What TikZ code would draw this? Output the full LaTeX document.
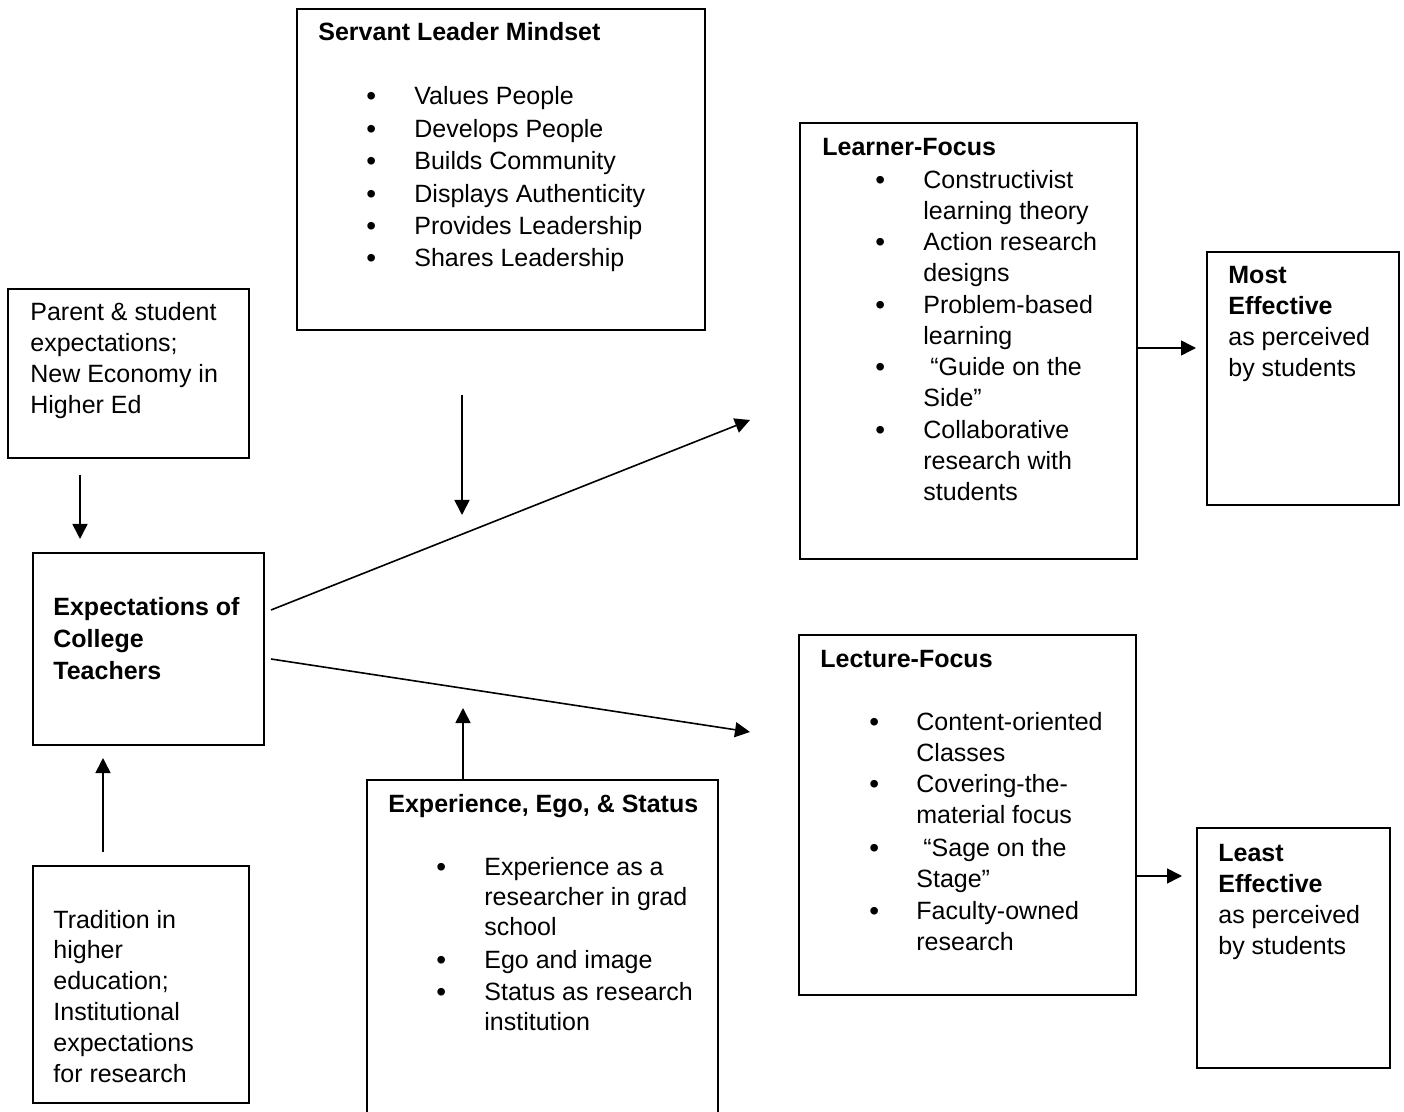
\documentclass[tikz,border=0pt]{standalone}
\usepackage{fontspec}
\setmainfont{Liberation Sans}
\usetikzlibrary{arrows.meta,fit}

% lines stacked with the first baseline as the node's baseline
\newcommand{\boxlines}[1]{\begin{tabular}[t]{@{}l@{}}#1\end{tabular}}

\tikzset{
  box/.style={draw, line width=1pt, inner sep=0pt},
  txt/.style={inner sep=0pt, anchor=base west,
    font=\fontsize{12.5pt}{15.5pt}\selectfont},
  head/.style={txt, font=\fontsize{12.5pt}{15.5pt}\selectfont\bfseries},
  bul/.style={txt, font=\fontsize{14pt}{15.5pt}\selectfont},
  arr/.style={-{Triangle[length=7.5pt,width=7.5pt]}, line width=0.8pt}
}

\begin{document}
\begin{tikzpicture}[x=0.5pt,y=-0.5pt]
    \useasboundingbox (0,0) rectangle (1404,1112);
    % Boxes
    \node[box, fit={(8,289) (249,458)}] (parent) {};
    \node[box, fit={(33,553) (264,745)}] (expect) {};
    \node[box, fit={(33,866) (249,1103)}] (trad) {};
    \node[box, fit={(297,9) (705,330)}] (servant) {};
    \node[box, fit={(367,780) (718,1140)}] (exper) {};
    \node[box, fit={(800,123) (1137,559)}] (learner) {};
    \node[box, fit={(1207,252) (1399,505)}] (most) {};
    \node[box, fit={(799,635) (1136,995)}] (lecture) {};
    \node[box, fit={(1197,828) (1390,1068)}] (least) {};
    % Left column texts
    \node[txt] (parenttxt) at (30,321) {\boxlines{Parent \& student\\expectations;\\New Economy in\\Higher Ed}};
    \node[head, font=\fontsize{12.5pt}{16pt}\selectfont\bfseries] (expecttxt) at (53,616) {\boxlines{Expectations of\\College\\Teachers}};
    \node[txt, font=\fontsize{12.5pt}{15.4pt}\selectfont] (tradtxt) at (53,928) {\boxlines{Tradition in\\higher\\education;\\Institutional\\expectations\\for research}};
    % Servant leader mindset
    \node[head] (servanthead) at (318,41) {Servant Leader Mindset};
    \node[bul, font=\fontsize{14pt}{16.2pt}\selectfont] (servantbul) at (366,106) {\boxlines{•\\•\\•\\•\\•\\•}};
    \node[txt, font=\fontsize{12.5pt}{16.2pt}\selectfont] (servanttxt) at (414,105) {\boxlines{Values People\\Develops People\\Builds Community\\Displays Authenticity\\Provides Leadership\\Shares Leadership}};
    % Learner focus
    \node[head] (learnerhead) at (822,156) {Learner-Focus};
    \node[bul] (lf1b) at (875,190) {•};
    \node[txt] (lf1) at (923,189) {\boxlines{Constructivist\\learning theory}};
    \node[bul] (lf2b) at (875,252) {•};
    \node[txt] (lf2) at (923,251) {\boxlines{Action research\\designs}};
    \node[bul] (lf3b) at (875,315) {•};
    \node[txt] (lf3) at (923,314) {\boxlines{Problem-based\\learning}};
    \node[bul] (lf4b) at (875,377) {•};
    \node[txt] (lf4) at (923,376) {\boxlines{\ “Guide on the\\Side”}};
    \node[bul] (lf5b) at (875,440) {•};
    \node[txt] (lf5) at (923,439) {\boxlines{Collaborative\\research with\\students}};
    \node[txt] (mosttxt) at (1228,284) {\boxlines{\textbf{Most}\\\textbf{Effective}\\as perceived\\by students}};
    % Lecture focus
    \node[head] (lecturehead) at (820,668) {Lecture-Focus};
    \node[bul] (lc1b) at (869,731) {•};
    \node[txt] (lc1) at (916,730) {\boxlines{Content-oriented\\Classes}};
    \node[bul] (lc2b) at (869,793) {•};
    \node[txt] (lc2) at (916,792) {\boxlines{Covering-the-\\material focus}};
    \node[bul] (lc3b) at (869,857) {•};
    \node[txt] (lc3) at (916,856) {\boxlines{\ “Sage on the\\Stage”}};
    \node[bul] (lc4b) at (869,920) {•};
    \node[txt] (lc4) at (916,919) {\boxlines{Faculty-owned\\research}};
    \node[txt] (leasttxt) at (1218,861) {\boxlines{\textbf{Least}\\\textbf{Effective}\\as perceived\\by students}};
    % Experience, ego and status
    \node[head] (experhead) at (388,812) {Experience, Ego, \& Status};
    \node[bul] (ex1b) at (436,876) {•};
    \node[txt, font=\fontsize{12.5pt}{15pt}\selectfont] (ex1) at (484,875) {\boxlines{Experience as a\\researcher in grad\\school}};
    \node[bul] (ex2b) at (436,969) {•};
    \node[txt] (ex2) at (484,968) {Ego and image};
    \node[bul] (ex3b) at (436,1001) {•};
    \node[txt, font=\fontsize{12.5pt}{15pt}\selectfont] (ex3) at (484,1000) {\boxlines{Status as research\\institution}};
    % Free ends of the arrows
    \coordinate (mtop) at (462,395);
    \coordinate (mtip) at (462,515);
    \coordinate (etip) at (463,708);
    \coordinate (up0) at (271,610);
    \coordinate (up1) at (750,420);
    \coordinate (lo0) at (271,659);
    \coordinate (lo1) at (750,732);
    % Arrows
    \draw[arr] ([yshift=-8pt]parent.south -| 80,0) -- ([yshift=6.5pt]expect.north -| 80,0);
    \draw[arr] ([yshift=6.5pt]trad.north -| 103,0) -- ([yshift=-6pt]expect.south -| 103,0);
    \draw[arr] (mtop) -- (mtip);
    \draw[arr] (exper.north -| etip) -- (etip);
    \draw[arr] (up0) -- (up1);
    \draw[arr] (lo0) -- (lo1);
    \draw[arr] (learner.east |- 0,348) -- ([xshift=-5pt]most.west |- 0,348);
    \draw[arr] (lecture.east |- 0,876) -- ([xshift=-7pt]least.west |- 0,876);
\end{tikzpicture}
\end{document}
